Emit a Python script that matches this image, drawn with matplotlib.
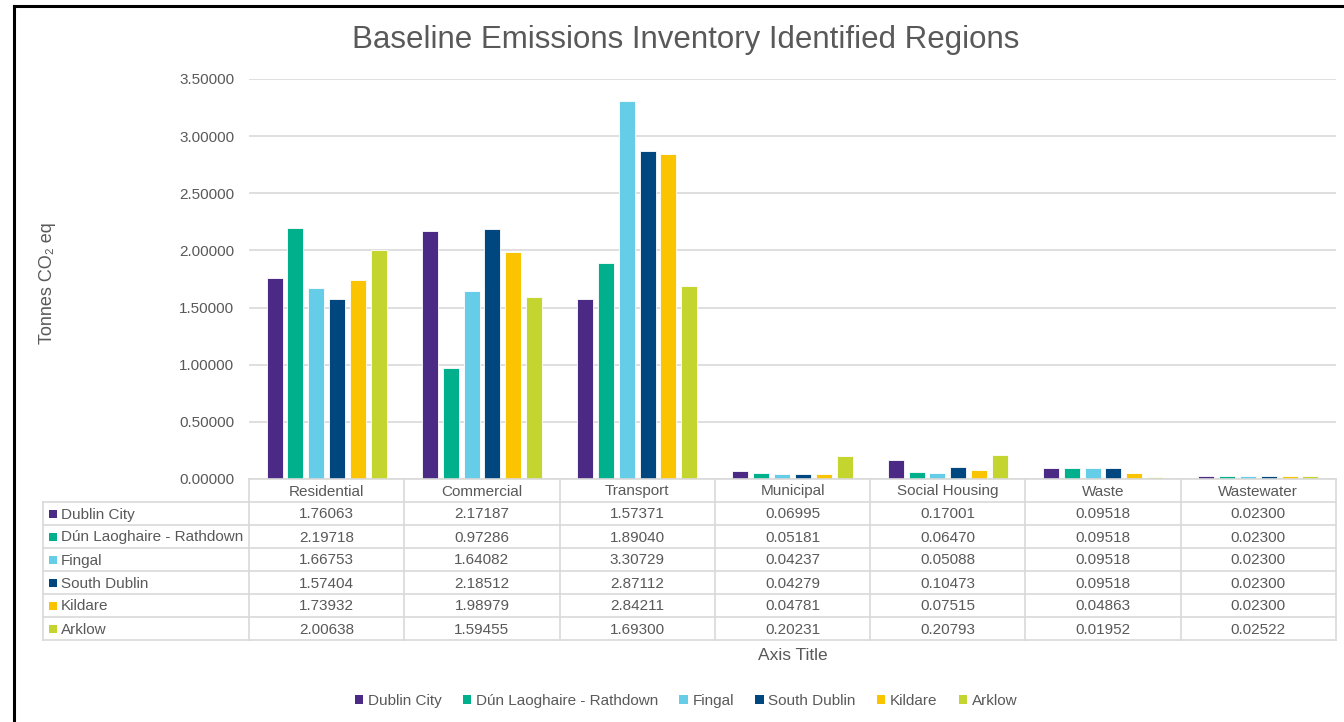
import matplotlib
matplotlib.use("Agg")
import matplotlib.pyplot as plt
from matplotlib.lines import Line2D
from matplotlib.patches import Rectangle
import numpy as np

plt.rcParams['font.family'] = ['Liberation Sans', 'DejaVu Sans']

categories = ["Residential", "Commercial", "Transport", "Municipal",
              "Social Housing", "Waste", "Wastewater"]
regions = ["Dublin City", "Dún Laoghaire - Rathdown", "Fingal",
           "South Dublin", "Kildare", "Arklow"]

dublin_city = [1.76063, 2.17187, 1.57371, 0.06995, 0.17001, 0.09518, 0.02300]
dun_laoghaire = [2.19718, 0.97286, 1.89040, 0.05181, 0.06470, 0.09518, 0.02300]
fingal = [1.66753, 1.64082, 3.30729, 0.04237, 0.05088, 0.09518, 0.02300]
south_dublin = [1.57404, 2.18512, 2.87112, 0.04279, 0.10473, 0.09518, 0.02300]
kildare = [1.73932, 1.98979, 2.84211, 0.04781, 0.07515, 0.04863, 0.02300]
arklow = [2.00638, 1.59455, 1.69300, 0.20231, 0.20793, 0.01952, 0.02522]

series = [dublin_city, dun_laoghaire, fingal, south_dublin, kildare, arklow]
colors = ["#4B2A85", "#00B08C", "#66CDE8", "#00467F", "#FAC400", "#C3D52E"]

ticks = [0.0, 0.5, 1.0, 1.5, 2.0, 2.5, 3.0, 3.5]

W, H = 1344, 722
fig = plt.figure(figsize=(W / 100, H / 100), dpi=100)
text_col = "#595959"
grid_col = "#D9D9D9"

def fx(px):
    return px / W

def fy(py):
    return 1 - py / H

# plot area
x0, x1 = 249, 1336
y_top, y_bot = 79, 479
ax = fig.add_axes([fx(x0), fy(y_bot), fx(x1) - fx(x0), fy(y_top) - fy(y_bot)])
n = len(categories)
ax.set_xlim(-0.5, n - 0.5)
ax.set_ylim(0, 3.5)
pitch = 0.134
bw = 0.103
xc = np.arange(n)
for i, (vals, c) in enumerate(zip(series, colors)):
    ax.bar(xc + (i - 2.5) * pitch, vals, width=bw, color=c,
           edgecolor="white", linewidth=0.6, zorder=3)
ax.set_yticks(ticks)
ax.set_yticklabels([f"{t:.5f}" for t in ticks], color=text_col, fontsize=11)
ax.tick_params(axis="y", length=0, pad=10.5)
ax.set_xticks([])
ax.grid(axis="y", color=grid_col, linewidth=1.2, zorder=0)
for s in ax.spines.values():
    s.set_visible(False)

# title and axis labels
fig.text(fx(686), fy(40), "Baseline Emissions Inventory Identified Regions",
         ha="center", va="center", fontsize=22.5, color=text_col)
fig.text(fx(47), fy(283), "Tonnes CO₂ eq", rotation=90, ha="center",
         va="center", fontsize=13, color=text_col)
fig.text(fx(792.5), fy(656), "Axis Title", ha="center", va="center",
         fontsize=12.5, color=text_col)

# data table
row_h = 23
tbl_left = 43
col_w = (x1 - x0) / n
lw = 1.2

def hline(xa, xb, y):
    fig.add_artist(Line2D([fx(xa), fx(xb)], [fy(y), fy(y)], color=grid_col, lw=lw))

def vline(x, ya, yb):
    fig.add_artist(Line2D([fx(x), fx(x)], [fy(ya), fy(yb)], color=grid_col, lw=lw))

nrows = len(regions)
bottom = y_bot + row_h * (nrows + 1)
hline(x0, x1, y_bot)
for r in range(1, nrows + 2):
    hline(tbl_left, x1, y_bot + r * row_h)
vline(tbl_left, y_bot + row_h, bottom)
for k in range(n + 1):
    vline(x0 + k * col_w, y_bot, bottom)

for k, cat in enumerate(categories):
    fig.text(fx(x0 + (k + 0.5) * col_w), fy(y_bot + row_h / 2 + 1), cat,
             ha="center", va="center", fontsize=11, color=text_col)

for r, (name, vals, c) in enumerate(zip(regions, series, colors)):
    ymid = y_bot + (r + 1.5) * row_h + 1
    fig.add_artist(Rectangle((fx(49), fy(ymid + 3)), fx(8), fy(0) - fy(8),
                             facecolor=c, edgecolor="none"))
    fig.text(fx(61), fy(ymid), name, ha="left", va="center", fontsize=11,
             color=text_col)
    for k, v in enumerate(vals):
        fig.text(fx(x0 + (k + 0.5) * col_w), fy(ymid), f"{v:.5f}",
                 ha="center", va="center", fontsize=11, color=text_col)

# legend
handles = [Rectangle((0, 0), 1, 1, facecolor=c, edgecolor="none") for c in colors]
fig.legend(handles, regions, loc="center", bbox_to_anchor=(fx(686), fy(701)),
           ncol=6, frameon=False, fontsize=11, handlelength=0.55,
           handleheight=0.55, handletextpad=0.3, columnspacing=1.4,
           labelcolor=text_col)

# outer frame
fig.add_artist(Line2D([fx(14), fx(14)], [fy(6), 0], color="black", lw=2.2))
fig.add_artist(Line2D([fx(14), 1], [fy(6), fy(6)], color="black", lw=2.2))

fig.savefig("out.png", dpi=100, facecolor="white")
